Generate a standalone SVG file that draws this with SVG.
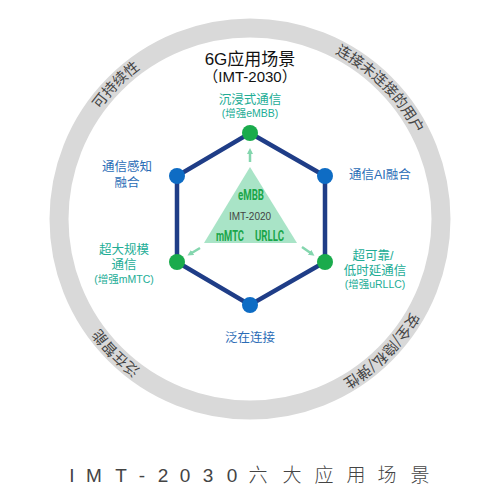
<svg xmlns="http://www.w3.org/2000/svg" xmlns:xlink="http://www.w3.org/1999/xlink" width="500" height="500" viewBox="0 0 500 500">
<style>
text{font-family:"Liberation Sans","Noto Sans CJK SC",sans-serif;}
.ring{font-size:14.5px;fill:#444;font-family:"Noto Sans CJK SC",sans-serif;}
.teal{fill:#22ad96;}
.blue{fill:#2a6cb6;}
.edge{stroke:#1f3d87;stroke-width:4.5;fill:none;}
.gnode{fill:#1aab4c;}
.bnode{fill:#0e6cc4;}
.arr{stroke:#84d6ae;stroke-width:2.5;fill:none;marker-end:url(#ah);}
.tri{font-family:"Roboto","Liberation Sans",sans-serif;font-weight:bold;fill:#1aa64a;font-size:14.5px;}
</style>
<defs>
<path id="rp" d="M64,219 A186,186 0 1 1 436,219 A186,186 0 1 1 64,219"/>
<marker id="ah" markerWidth="6" markerHeight="6" refX="3" refY="3" orient="auto" markerUnits="userSpaceOnUse">
<path d="M0,0 L6,3 L0,6 Z" fill="#84d6ae"/>
</marker>
</defs>
<rect width="500" height="500" fill="#fff"/>
<g id="ring">
<circle cx="250" cy="219" r="191" fill="none" stroke="#d9d9d9" stroke-width="19"/>
<text class="ring" text-anchor="middle"><textPath xlink:href="#rp" startOffset="12.5%">可持续性</textPath></text>
<text class="ring" text-anchor="middle"><textPath xlink:href="#rp" startOffset="37.5%">连接未连接的用户</textPath></text>
<text class="ring" text-anchor="middle"><textPath xlink:href="#rp" startOffset="62.5%">安全/隐私/弹性</textPath></text>
<text class="ring" text-anchor="middle"><textPath xlink:href="#rp" startOffset="87.5%">泛在智能</textPath></text>
</g>
<g id="title">
<text x="250" y="65" text-anchor="middle" font-size="17" fill="#111">6G应用场景</text>
<text x="250" y="82" text-anchor="middle" font-size="15" fill="#111">（IMT-2030）</text>
</g>
<g id="connectors">
<polygon class="edge" points="250,133 325,176 325,262 250,305 177,262 177,176"/>
<line class="arr" x1="250" y1="162" x2="250" y2="151"/>
<line class="arr" x1="200" y1="248" x2="190" y2="254"/>
<line class="arr" x1="302" y1="247" x2="312" y2="254"/>
</g>
<g id="core">
<polygon points="250,167 204,243 297,243" fill="#a9e4c7"/>
<text class="tri" x="238" y="200" textLength="26" lengthAdjust="spacingAndGlyphs">eMBB</text>
<text x="250" y="220" text-anchor="middle" font-size="10" fill="#444" font-family="Roboto,'Liberation Sans',sans-serif">IMT-2020</text>
<text class="tri" x="216" y="241" textLength="28" lengthAdjust="spacingAndGlyphs">mMTC</text>
<text class="tri" x="255" y="241" textLength="29" lengthAdjust="spacingAndGlyphs">URLLC</text>
</g>
<g id="n-embb">
<circle class="gnode" cx="250" cy="133" r="8"/>
<text class="teal" x="250" y="104" text-anchor="middle" font-size="12.5">沉浸式通信</text>
<text class="teal" x="250" y="117" text-anchor="middle" font-size="10.5">(增强eMBB)</text>
</g>
<g id="n-ai">
<circle class="bnode" cx="325" cy="176" r="8"/>
<text class="blue" x="349" y="179" font-size="12.5">通信AI融合</text>
</g>
<g id="n-urllc">
<circle class="gnode" cx="325" cy="262" r="8"/>
<text class="teal" x="373" y="260" text-anchor="middle" font-size="12.5">超可靠/</text>
<text class="teal" x="375" y="275" text-anchor="middle" font-size="12.5">低时延通信</text>
<text class="teal" x="375" y="288" text-anchor="middle" font-size="10.5">(增强uRLLC)</text>
</g>
<g id="n-ubiq">
<circle class="bnode" cx="250" cy="305" r="8"/>
<text class="blue" x="250" y="342" text-anchor="middle" font-size="12.5">泛在连接</text>
</g>
<g id="n-mmtc">
<circle class="gnode" cx="177" cy="262" r="8"/>
<text class="teal" x="124" y="254" text-anchor="middle" font-size="12.5">超大规模</text>
<text class="teal" x="124" y="269" text-anchor="middle" font-size="12.5">通信</text>
<text class="teal" x="124" y="283" text-anchor="middle" font-size="10.5">(增强mMTC)</text>
</g>
<g id="n-isac">
<circle class="bnode" cx="177" cy="176" r="8"/>
<text class="blue" x="127" y="171" text-anchor="middle" font-size="12.5">通信感知</text>
<text class="blue" x="127" y="187" text-anchor="middle" font-size="12.5">融合</text>
</g>
<g id="caption">
<text x="72 94 121 142 163 185 208 232 258 292 324 356 387 420" y="482" text-anchor="middle" font-size="19" fill="#444" font-family="'Noto Sans CJK SC',sans-serif" font-weight="300">IMT-2030六大应用场景</text>
</g>
</svg>
